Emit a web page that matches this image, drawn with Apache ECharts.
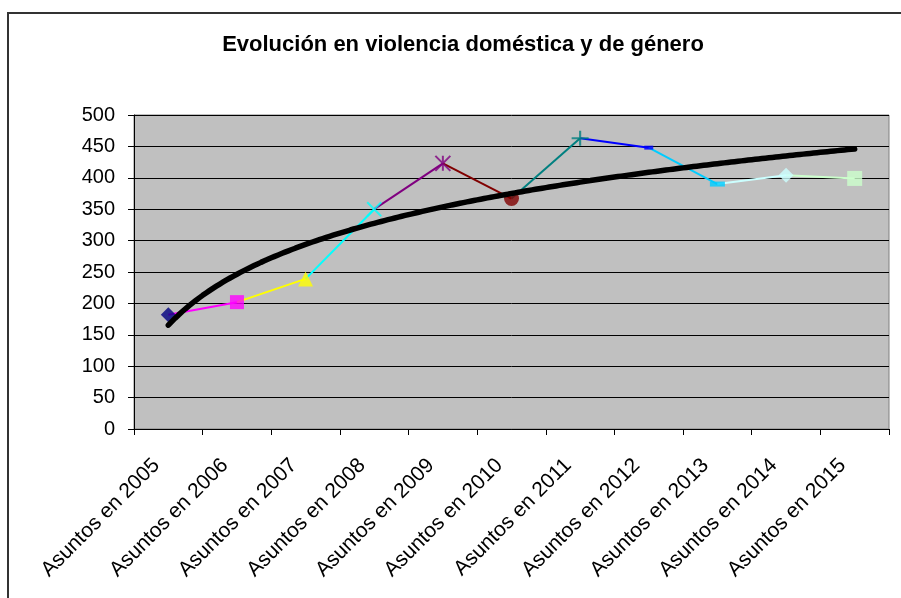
<!DOCTYPE html>
<html>
<head>
<meta charset="utf-8">
<script src="https://cdn.jsdelivr.net/npm/echarts@6/dist/echarts.min.js"></script>
<style>html,body{margin:0;padding:0;background:#fff}#c{width:901px;height:598px}</style>
</head>
<body>
<div id="c"></div>
<script>
// ---- data ----
const categories = ['Asuntos en 2005','Asuntos en 2006','Asuntos en 2007','Asuntos en 2008','Asuntos en 2009','Asuntos en 2010','Asuntos en 2011','Asuntos en 2012','Asuntos en 2013','Asuntos en 2014','Asuntos en 2015'];
const values = [182, 202, 239, 350, 423, 367, 463, 448, 390, 404, 399];
const yTicks = [0, 50, 100, 150, 200, 250, 300, 350, 400, 450, 500];
const titleText = 'Evolución en violencia doméstica y de género';

// ---- styles ----
const pointColors = ['#000080','#FF00FF','#FFFF00','#00FFFF','#800080','#800000','#008080','#0000FF','#00CCFF','#CCFFFF','#CCFFCC'];
const XPATH = 'path://M0,0L14,14M14,0L0,14';
const STARPATH = 'path://M0,0L14,14M14,0L0,14M7,0L7,14';
const PLUSPATH = 'path://M8,0L8,16M0,8L16,8';
const markerStyles = [
  {symbol:'diamond', size:15},
  {symbol:'rect', size:14},
  {symbol:'triangle', size:15},
  {symbol:XPATH, size:14, stroke:true},
  {symbol:STARPATH, size:15, stroke:true},
  {symbol:'circle', size:15},
  {symbol:PLUSPATH, size:[17,15], stroke:true},
  {symbol:'rect', size:[9,4]},
  {symbol:'rect', size:[15,5]},
  {symbol:'diamond', size:15},
  {symbol:'rect', size:15}
];
const FONT = 'Liberation Sans, Arial';

// ---- log trendline by least squares (as Excel) ----
const n = values.length;
const lx = values.map((v,i)=>Math.log(i+1));
const mx = lx.reduce((a,b)=>a+b,0)/n;
const my = values.reduce((a,b)=>a+b,0)/n;
let sxy=0,sxx=0;
for(let i=0;i<n;i++){sxy+=(lx[i]-mx)*(values[i]-my);sxx+=(lx[i]-mx)*(lx[i]-mx);}
const tb = sxy/sxx, ta = my - tb*mx;
const trend = [];
for(let k=0;k<=200;k++){const t=1+10*k/200;trend.push([t, ta+tb*Math.log(t)]);}

const series = [];
for(let i=1;i<n;i++){
  const d = values.map((v,j)=> (j===i-1||j===i)? v : null);
  series.push({type:'line', data:d, symbol:'none', silent:true, connectNulls:false,
    lineStyle:{color:pointColors[i], width:2}, z:2});
}
series.push({type:'scatter', z:3, data: values.map((v,i)=>{
  const m = markerStyles[i];
  return {value:v, symbol:m.symbol, symbolSize:m.size,
    itemStyle: m.stroke ? {color:'none', borderColor:pointColors[i], borderWidth:2}
                        : {color:pointColors[i], borderWidth:0}};
})});
series.push({type:'line', xAxisIndex:1, data:trend, symbol:'none', smooth:false, z:4,
  lineStyle:{color:'#000', width:5.5, cap:'round'}});

const chart = echarts.init(document.getElementById('c'));
chart.setOption({
  animation:false,
  backgroundColor:'#fff',
  title:{text:titleText, left:458, top:29, textAlign:'center',
    textStyle:{fontFamily:FONT, fontWeight:'bold', fontSize:22, color:'#000'}},
  graphic:[{type:'rect', shape:{x:8,y:13,width:1000,height:1000}, style:{fill:'none', stroke:'#333', lineWidth:2}, silent:true}],
  grid:{left:134, right:12, top:115, bottom:169, show:true, backgroundColor:'#C0C0C0', borderColor:'#808080', borderWidth:1},
  xAxis:[{type:'category', data:categories, boundaryGap:true,
    axisLine:{lineStyle:{color:'#000', width:1}},
    axisTick:{show:true, interval:0, length:6, lineStyle:{color:'#000'}},
    axisLabel:{interval:0, rotate:45, fontFamily:FONT, fontSize:21, color:'#000', margin:21, padding:[0,17,0,0]},
    splitLine:{show:false}},
    {type:'value', min:0.5, max:11.5, show:false}],
  yAxis:{type:'value', min:yTicks[0], max:yTicks[yTicks.length-1], interval:50,
    axisLine:{show:true, lineStyle:{color:'#000'}},
    axisTick:{show:true, length:6, lineStyle:{color:'#000'}},
    axisLabel:{fontFamily:FONT, fontSize:20, color:'#000', margin:19},
    splitLine:{show:true, lineStyle:{color:'#000', width:1}}},
  series:series
});
</script>
</body>
</html>
